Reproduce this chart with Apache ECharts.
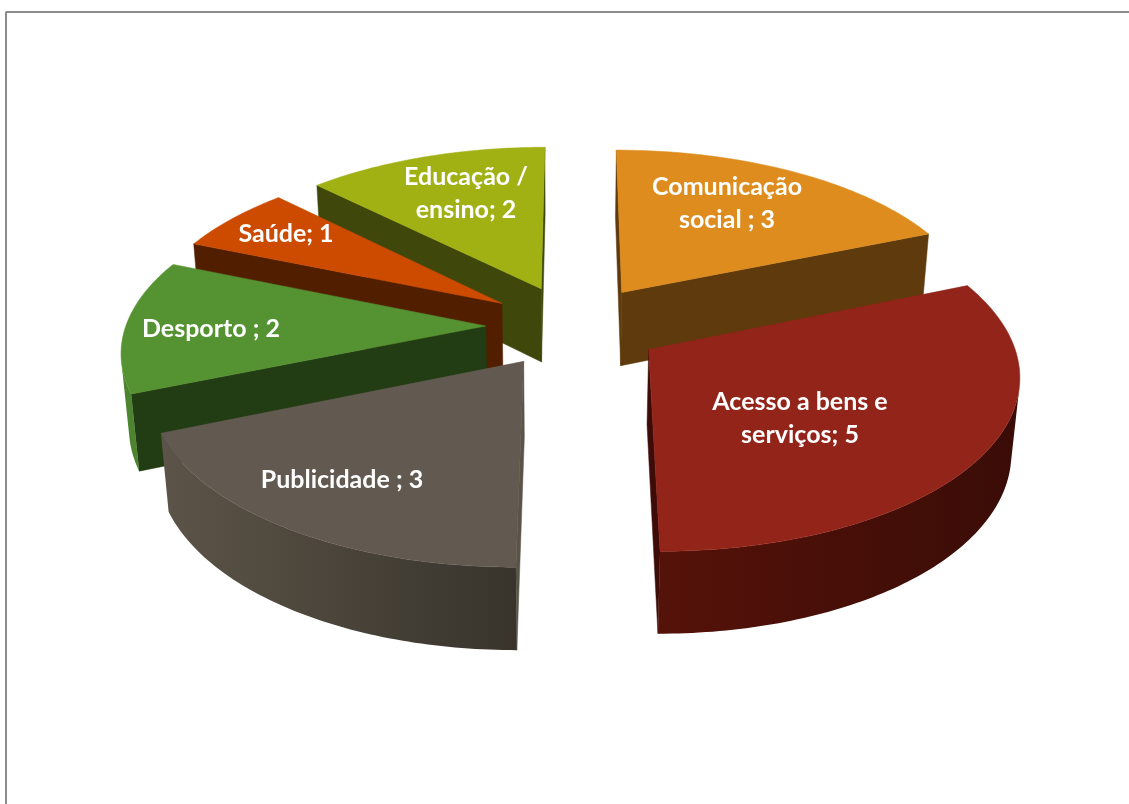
<!DOCTYPE html>
<html>
<head>
<meta charset="utf-8">
<style>html,body{margin:0;padding:0;background:#fff}#chart{width:1129px;height:804px}</style>
<script src="https://cdn.jsdelivr.net/npm/echarts@6/dist/echarts.min.js"></script>
</head>
<body>
<div id="chart"></div>
<script>
// Data
const categories = ['Comunicação social', 'Acesso a bens e serviços', 'Publicidade', 'Desporto', 'Saúde', 'Educação / ensino'];
const values = [3, 5, 3, 2, 1, 2];
const labelTexts = ['Comunicação\nsocial ; 3', 'Acesso a bens e\nserviços; 5', 'Publicidade ; 3', 'Desporto ; 2', 'Saúde; 1', 'Educação /\nensino; 2'];

// Colours
const topColors = ['#de8c1e', '#922419', '#625950', '#559231', '#cc4b00', '#a1b013'];
const cutColors = ['#5f3a0d', '#3d0c08', '#5a5347', '#223c13', '#521e00', '#3f470a'];
const wallLeft = ['#6a4210', '#551209', '#5c5448', '#4c8430', '#7a2d00', '#8a9812'];
const wallRight = ['#5f3a0d', '#3a0c07', '#38342c', '#4c8430', '#521e00', '#8a9812'];

// Layout (perspective model of the pie, label anchors)
const view = { cx: 574, cy: 326, R: 360, Ry: 169, p: 0.13, k: 0.0182, vx: -14, vy: 4170, explode: 0.245 };
const labelAnchors = [[727, 203], [800, 418], [342, 480], [211, 329], [286, 234], [466, 193]];

const total = values.reduce((a, b) => a + b, 0);
const starts = [];
values.reduce((acc, v, i) => { starts[i] = acc; return acc + v; }, 0);

function project(X, Y, bottom) {
  const w = 1 - view.p * Y;
  const kk = bottom ? view.k : 0;
  return [
    view.cx + (view.R * X + kk * view.vx) / (w + kk),
    view.cy + (view.Ry * Y + kk * view.vy) / (w + kk)
  ];
}
function angle(v) { return (v / total) * Math.PI * 2; }
function area(pts) {
  let s = 0;
  pts.forEach((a, i) => { const b = pts[(i + 1) % pts.length]; s += a[0] * b[1] - b[0] * a[1]; });
  return s / 2;
}

// painter order: far slices first
const bisector = values.map((v, i) => angle(starts[i] + v / 2));
const order = values.map((v, i) => i).sort((a, b) => -Math.cos(bisector[a]) - -Math.cos(bisector[b]));
const rank = [];
order.forEach((idx, r) => { rank[idx] = r; });

function renderItem(params, api) {
  const i = params.dataIndex;
  const v = api.value(0);
  const a0 = angle(starts[i]);
  const a1 = angle(starts[i] + v);
  const mid = (a0 + a1) / 2;
  const ox = view.explode * Math.sin(mid);
  const oy = -view.explode * Math.cos(mid);
  const steps = Math.max(24, Math.round((a1 - a0) * 60));
  const rimTop = [], rimBot = [];
  for (let s = 0; s <= steps; s++) {
    const t = a0 + (a1 - a0) * s / steps;
    const X = ox + Math.sin(t), Y = oy - Math.cos(t);
    rimTop.push(project(X, Y, false));
    rimBot.push(project(X, Y, true));
  }
  const apexT = project(ox, oy, false);
  const apexB = project(ox, oy, true);
  const z = rank[i] * 10;
  const poly = (points, fill, dz) => ({
    type: 'polygon', shape: { points }, z2: z + dz,
    style: { fill, stroke: typeof fill === 'string' ? fill : null, lineWidth: typeof fill === 'string' ? 0.5 : 0 }
  });
  const children = [];
  const startFace = [apexT, rimTop[0], rimBot[0], apexB];
  const endFace = [apexT, rimTop[steps], rimBot[steps], apexB];
  // keep only the cut faces that look toward the viewer
  if (area(startFace) < 0) children.push(poly(startFace, cutColors[i], 1));
  if (area(endFace) > 0) children.push(poly(endFace, cutColors[i], 1));
  // outer wall: only the part of the rim that looks toward the viewer
  let first = -1, last = -1;
  for (let s = 0; s < steps; s++) {
    const quad = [rimTop[s], rimTop[s + 1], rimBot[s + 1], rimBot[s]];
    if (area(quad) < 0) { if (first < 0) first = s; last = s + 1; }
  }
  if (first >= 0) {
    const wallPts = rimTop.slice(first, last + 1).concat(rimBot.slice(first, last + 1).reverse());
    const grad = new echarts.graphic.LinearGradient(0, 0, 1, 0, [
      { offset: 0, color: wallLeft[i] }, { offset: 1, color: wallRight[i] }
    ]);
    children.push(poly(wallPts, grad, 2));
  }
  children.push(poly([apexT].concat(rimTop), topColors[i], 3));
  return { type: 'group', children };
}

function labelItem(params) {
  const i = params.dataIndex;
  return {
    type: 'text', z2: 500,
    style: {
      text: labelTexts[i], x: labelAnchors[i][0], y: labelAnchors[i][1],
      align: 'center', verticalAlign: 'middle', fill: '#ffffff',
      font: '700 25px Lato, "Open Sans", sans-serif', lineHeight: 33
    }
  };
}

const chart = echarts.init(document.getElementById('chart'), null, { renderer: 'canvas' });
chart.setOption({
  animation: false,
  backgroundColor: '#ffffff',
  graphic: [
    { type: 'line', shape: { x1: 5.5, y1: 12, x2: 1129, y2: 12 }, style: { stroke: '#8c8c8c', lineWidth: 2 } },
    { type: 'line', shape: { x1: 6, y1: 12, x2: 6, y2: 804 }, style: { stroke: '#8c8c8c', lineWidth: 2 } }
  ],
  series: [
    { type: 'custom', name: 'slices', coordinateSystem: 'none', renderItem, data: values.map((v, i) => ({ name: categories[i], value: [v] })), silent: true },
    { type: 'custom', name: 'labels', coordinateSystem: 'none', renderItem: labelItem, data: values.map((v, i) => ({ name: categories[i], value: [v] })), silent: true, z: 5 }
  ]
});
</script>
</body>
</html>
